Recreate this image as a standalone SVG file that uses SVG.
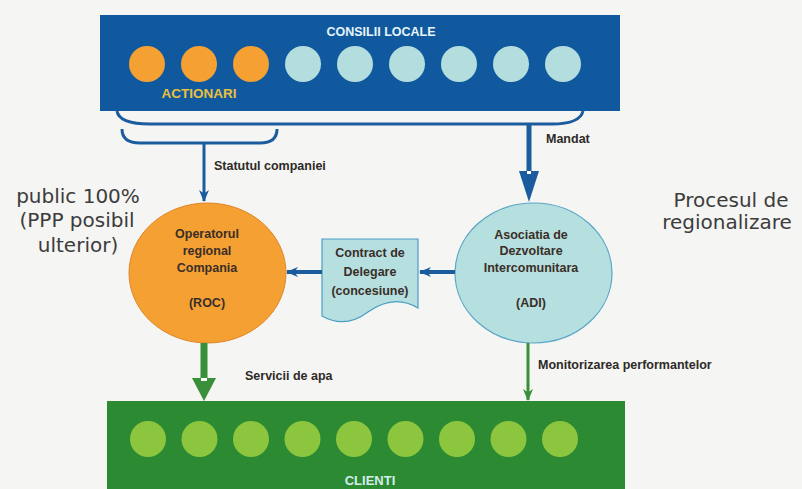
<svg xmlns="http://www.w3.org/2000/svg" width="802" height="489" viewBox="0 0 802 489">
<style>
.lbl{font-family:"Liberation Sans",Arial,sans-serif;font-weight:bold;font-size:12.5px;fill:#2e2a28}
.ctext{font-family:"Liberation Sans",Arial,sans-serif;font-weight:bold;font-size:12.5px;fill:#3a2e28;text-anchor:middle}
.big{font-family:"DejaVu Sans",Verdana,sans-serif;font-size:20px;fill:#3c3c3c;text-anchor:middle}
.blue{stroke:#1a5c9e;fill:none}
.grn{stroke:#3a8f3a;fill:none}
.oc{fill:#f5a033}
.cc{fill:#b4dede}
.gc{fill:#8cc63f}
</style>
<defs>
<marker id="ab" viewBox="0 0 12 10" refX="11" refY="5" markerWidth="12" markerHeight="10" markerUnits="userSpaceOnUse" orient="auto">
<path d="M0,0 L12,5 L0,10 L3.5,5 Z" fill="#1a5c9e"/>
</marker>
<marker id="ag" viewBox="0 0 12 10" refX="11" refY="5" markerWidth="12" markerHeight="10" markerUnits="userSpaceOnUse" orient="auto">
<path d="M0,0 L12,5 L0,10 L3.5,5 Z" fill="#3a8f3a"/>
</marker>
</defs>
<rect width="802" height="489" fill="#f5f5f3"/>

<g id="consilii">
<rect x="100" y="15" width="520" height="96" fill="#11599f"/>
<text x="381" y="36" text-anchor="middle" font-family="Liberation Sans, Arial, sans-serif" font-weight="bold" font-size="12.5" fill="#e8f4f8">CONSILII LOCALE</text>
<circle class="oc" cx="147" cy="64" r="18"/>
<circle class="oc" cx="199" cy="64" r="18"/>
<circle class="oc" cx="251" cy="64" r="18"/>
<circle class="cc" cx="303" cy="64" r="18"/>
<circle class="cc" cx="355" cy="64" r="18"/>
<circle class="cc" cx="407" cy="64" r="18"/>
<circle class="cc" cx="459" cy="64" r="18"/>
<circle class="cc" cx="511" cy="64" r="18"/>
<circle class="cc" cx="563" cy="64" r="18"/>
<text x="199" y="98" text-anchor="middle" font-family="Liberation Sans, Arial, sans-serif" font-weight="bold" font-size="13.5" fill="#e8c040">ACTIONARI</text>
</g>

<g id="roc">
<ellipse cx="207.5" cy="273" rx="78.5" ry="70" fill="#f5a033" stroke="#e0852a" stroke-width="1"/>
<text class="ctext" x="207" y="238">Operatorul</text>
<text class="ctext" x="207" y="255">regional</text>
<text class="ctext" x="207" y="272">Compania</text>
<text class="ctext" x="207" y="307">(ROC)</text>
</g>

<g id="adi">
<ellipse cx="533.5" cy="273" rx="78.5" ry="70" fill="#b6dfdf" stroke="#5aa6c6" stroke-width="1.2"/>
<text class="ctext" x="531" y="239">Asociatia de</text>
<text class="ctext" x="531" y="255">Dezvoltare</text>
<text class="ctext" x="531" y="272">Intercomunitara</text>
<text class="ctext" x="531" y="307">(ADI)</text>
</g>

<g id="contract">
<path d="M322,239 H418 V308 C400,297 382,302 368,312 C352,324 336,324 322,316 Z" fill="#b6dfdf" stroke="#4a9ec6" stroke-width="1.2"/>
<text class="ctext" x="370" y="257" font-size="12">Contract de</text>
<text class="ctext" x="370" y="276" font-size="12">Delegare</text>
<text class="ctext" x="370" y="295" font-size="12">(concesiune)</text>
</g>

<g id="clienti">
<rect x="107" y="401" width="518" height="100" fill="#2b8a32"/>
<circle class="gc" cx="148" cy="439" r="18"/>
<circle class="gc" cx="199.5" cy="439" r="18"/>
<circle class="gc" cx="251" cy="439" r="18"/>
<circle class="gc" cx="302.5" cy="439" r="18"/>
<circle class="gc" cx="354" cy="439" r="18"/>
<circle class="gc" cx="405.5" cy="439" r="18"/>
<circle class="gc" cx="457" cy="439" r="18"/>
<circle class="gc" cx="508.5" cy="439" r="18"/>
<circle class="gc" cx="560" cy="439" r="18"/>
<text x="370" y="485" text-anchor="middle" font-family="Liberation Sans, Arial, sans-serif" font-weight="bold" font-size="13" fill="#d4ecec">CLIENTI</text>
</g>

<g id="public">
<text class="big" x="78" y="203">public 100%</text>
<text class="big" x="77" y="227">(PPP posibil</text>
<text class="big" x="78" y="252">ulterior)</text>
</g>

<g id="procesul">
<text class="big" x="731" y="207">Procesul de</text>
<text class="big" x="727" y="229">regionalizare</text>
</g>

<g id="connectors">
<path class="blue" stroke-width="3" d="M117,111 Q119,124 150,124 L552,124 Q580,124 583,111"/>
<path class="blue" stroke-width="3" d="M122,129 Q122,143 140,143 L260,143 Q277,143 277,129"/>
<line class="blue" stroke-width="3" x1="204" y1="143" x2="204" y2="201" marker-end="url(#ab)"/>
<text class="lbl" x="214" y="170">Statutul companiei</text>

<rect x="526.5" y="124" width="5" height="48" fill="#1a5c9e"/>
<path d="M519,171 L539,171 L529,202 Z" fill="#1a5c9e"/>
<rect x="527" y="171" width="4" height="3" fill="#ffffff"/>
<text class="lbl" x="546" y="143">Mandat</text>

<line class="blue" stroke-width="4" x1="455" y1="272" x2="420" y2="272" marker-end="url(#ab)"/>
<line class="blue" stroke-width="4" x1="322" y1="272" x2="287" y2="272" marker-end="url(#ab)"/>

<rect x="200.5" y="343" width="7" height="36" fill="#3a8f3a"/>
<path d="M192,378 L216,378 L204,401 Z" fill="#3a8f3a"/>
<rect x="201" y="378" width="6" height="3" fill="#ffffff"/>
<text class="lbl" x="245" y="380">Servicii de apa</text>

<line class="grn" stroke-width="3" x1="528" y1="343" x2="528" y2="400" marker-end="url(#ag)"/>
<text class="lbl" x="538" y="369">Monitorizarea performantelor</text>
</g>
</svg>
